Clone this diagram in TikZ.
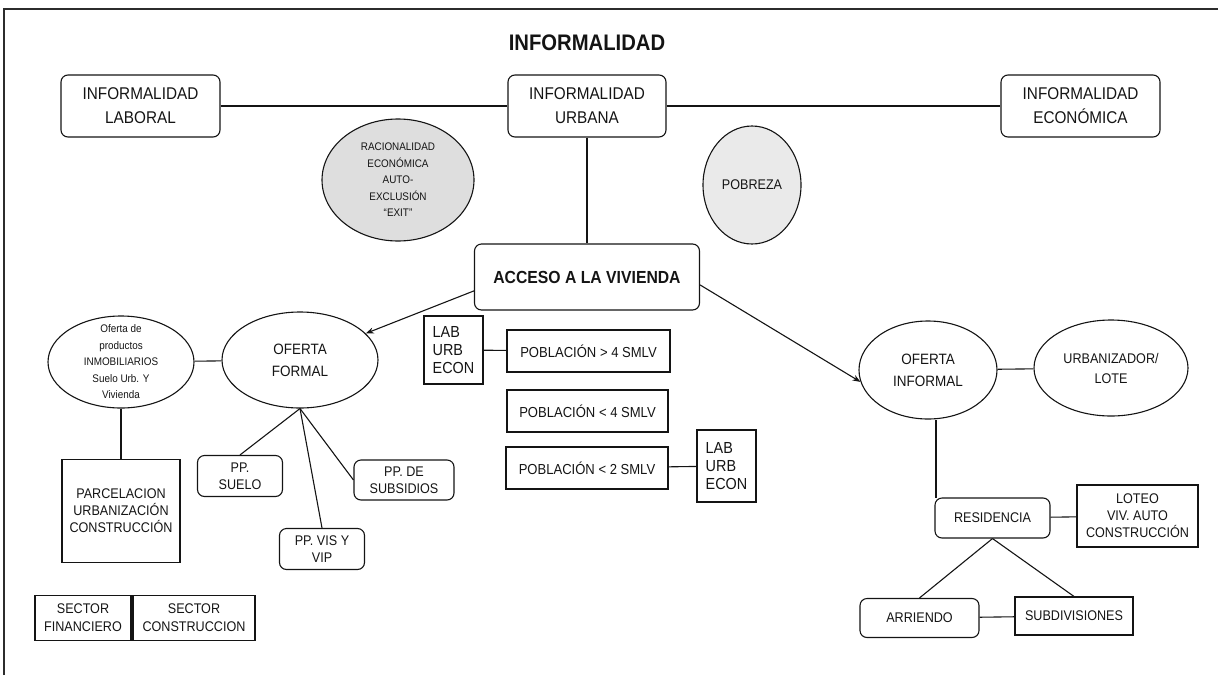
\documentclass[tikz,border=0pt]{standalone}
\usepackage{fontspec}
\setmainfont{Liberation Sans}[FakeStretch=0.9]
\usetikzlibrary{shapes.geometric,arrows.meta}
\definecolor{ink}{HTML}{141414}
\definecolor{shadeA}{HTML}{DEDEDE}
\definecolor{shadeB}{HTML}{EAEAEA}
\newcommand\fsz[2]{\fontsize{#1}{#2}\selectfont}
\tikzset{
  every node/.style={inner sep=0pt, text=ink, align=center},
  base/.style={draw=ink, line width=1.1pt},
  rbox/.style={base, rectangle, rounded corners=7pt},
  sbox/.style={base, rectangle},
  oval/.style={base, ellipse},
  link/.style={draw=ink, line width=1.1pt},
  arr/.style={link, -{Stealth[length=8pt,width=6pt]}},
  frameline/.style={draw=ink!90, line width=1.6pt},
}
\begin{document}
\begin{tikzpicture}[x=1pt,y=-1pt]
\useasboundingbox (0,0) rectangle (1218,675);
% page frame (top and left rules)
\coordinate (fbl) at (4,675);
\coordinate (ftl) at (4,9);
\coordinate (ftr) at (1218,9);
\draw[frameline] (fbl) -- (ftl) -- (ftr);

% title
\node[font=\fsz{22.5}{26}\bfseries] (title) at (587,43) {INFORMALIDAD};

% top row
\node[rbox, minimum width=159, minimum height=62, font=\fsz{17}{24}] (ilab) at (140.5,106) {INFORMALIDAD\\LABORAL};
\node[rbox, minimum width=158, minimum height=62, font=\fsz{17}{24}] (iurb) at (587,106) {INFORMALIDAD\\URBANA};
\node[rbox, minimum width=159, minimum height=62, font=\fsz{17}{24}] (ieco) at (1080.5,106) {INFORMALIDAD\\ECONÓMICA};

% side bubbles
\node[oval, fill=shadeA, minimum width=152, minimum height=122,
  label={[font=\fsz{11}{16.5}]center:{RACIONALIDAD\\ECONÓMICA\\AUTO-\\EXCLUSIÓN\\``EXIT''}}] (rac) at (398,180) {};
\node[oval, fill=shadeB, minimum width=98, minimum height=118, font=\fsz{14}{17}] (pob) at (752,185) {POBREZA};

% central node
\node[rbox, minimum width=225, minimum height=66, font=\fsz{17.5}{20}\bfseries] (acc) at (587,277) {ACCESO A LA VIVIENDA};

% formal branch
\node[oval, minimum width=156, minimum height=96, font=\fsz{15}{22}] (ofor) at (300,360) {OFERTA\\FORMAL};
\node[oval, minimum width=146, minimum height=92,
  label={[font=\fsz{11}{16.5}]center:{Oferta de\\productos\\INMOBILIARIOS\\Suelo Urb. Y\\Vivienda}}] (prod) at (121,362) {};
\node[sbox, minimum width=118, minimum height=103, font=\fsz{14}{17}] (parc) at (121,511) {PARCELACION\\URBANIZACIÓN\\CONSTRUCCIÓN};
\node[rbox, minimum width=85, minimum height=41, font=\fsz{14}{17.5}] (ppsue) at (240,476) {PP.\\SUELO};
\node[rbox, minimum width=85, minimum height=41, font=\fsz{14}{17.5}] (ppvis) at (322,549) {PP. VIS Y\\VIP};
\node[rbox, minimum width=100, minimum height=40, font=\fsz{14}{17.5}] (ppsub) at (404,480) {PP. DE\\SUBSIDIOS};
\node[sbox, minimum width=96, minimum height=45, font=\fsz{14}{18}] (sfin) at (83,618) {SECTOR\\FINANCIERO};
\node[sbox, minimum width=122, minimum height=45, font=\fsz{14}{18}] (scon) at (194,618) {SECTOR\\CONSTRUCCION};

% population groups
\node[sbox, minimum width=59, minimum height=68, align=left, font=\fsz{16}{18}] (lab1) at (453.5,350) {LAB\\URB\\ECON};
\node[sbox, minimum width=163, minimum height=42, font=\fsz{14.5}{17}] (pmas4) at (588.5,351) {POBLACIÓN > 4 SMLV};
\node[sbox, minimum width=161, minimum height=42, font=\fsz{14.5}{17}] (pmen4) at (587.5,411) {POBLACIÓN < 4 SMLV};
\node[sbox, minimum width=162, minimum height=42, font=\fsz{14.5}{17}] (pmen2) at (587,468) {POBLACIÓN < 2 SMLV};
\node[sbox, minimum width=59, minimum height=72, align=left, font=\fsz{16}{18}] (lab2) at (726.5,466) {LAB\\URB\\ECON};

% informal branch
\node[oval, minimum width=138, minimum height=98, font=\fsz{15}{22}] (oinf) at (928,370) {OFERTA\\INFORMAL};
\node[oval, minimum width=154, minimum height=96, font=\fsz{14}{20}] (urbl) at (1111,368) {URBANIZADOR/\\LOTE};
\node[rbox, minimum width=115, minimum height=40, font=\fsz{14}{17}] (resi) at (992.5,518) {RESIDENCIA};
\node[sbox, minimum width=121, minimum height=62, font=\fsz{14}{17}] (lote) at (1137.5,516) {LOTEO\\VIV. AUTO\\CONSTRUCCIÓN};
\node[rbox, minimum width=119, minimum height=39, font=\fsz{14}{17}] (arri) at (919.5,618) {ARRIENDO};
\node[sbox, minimum width=118, minimum height=38, font=\fsz{14}{17}] (subd) at (1074,616) {SUBDIVISIONES};

% connectors
\draw[link] (ilab) -- (iurb);
\draw[link] (iurb) -- (ieco);
\draw[link] (iurb) -- (acc);
\draw[arr] (acc.187) -- (ofor.22);
\draw[arr] (acc.-4) -- (oinf.190);
\draw[link] (prod) -- (ofor);
\draw[link] (prod.south) -- (parc.north);
\draw[link] (ofor.south) -- (ppsue.north);
\draw[link] (ofor.south) -- (ppvis.north);
\draw[link] (ofor.south) -- (ppsub.west);
\draw[link] (lab1) -- (pmas4);
\draw[link] (pmen2) -- (lab2);
\draw[link] (oinf) -- (urbl);
\coordinate (resitop) at (936,498);
\draw[link] (oinf.south -| resitop) -- (resitop);
\draw[link] (resi) -- (lote);
\draw[link] (resi.south) -- (arri.north);
\draw[link] (resi.south) -- (subd.north);
\draw[link] (arri) -- (subd);
\end{tikzpicture}
\end{document}
